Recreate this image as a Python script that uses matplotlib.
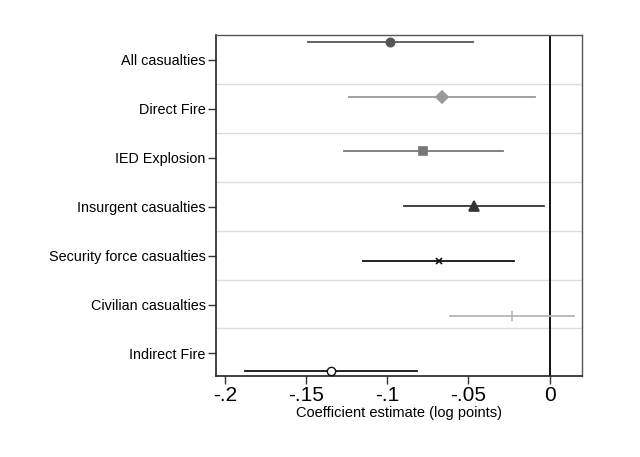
import matplotlib
matplotlib.use("Agg")
import matplotlib.pyplot as plt
import numpy as np

plt.rcParams['font.family'] = ['Liberation Sans', 'DejaVu Sans']

categories = ["All casualties", "Direct Fire", "IED Explosion", "Insurgent casualties",
              "Security force casualties", "Civilian casualties", "Indirect Fire"]
estimates = [-0.0983, -0.0661, -0.0778, -0.0466, -0.0683, -0.0230, -0.1346]
ci_low = [-0.1490, -0.1233, -0.1266, -0.0895, -0.1147, -0.0612, -0.1873]
ci_high = [-0.0470, -0.0089, -0.0289, -0.0037, -0.0220, 0.0150, -0.0817]
xticks = [-0.2, -0.15, -0.1, -0.05, 0]
xticklabels = ["-.2", "-.15", "-.1", "-.05", "0"]

colors = ["#555555", "#999999", "#777777", "#333333", "#111111", "#b5b5b5", "#111111"]
markers = ["o", "D", "s", "^", "x", "|", "o"]
msizes = [6, 6, 6, 7, 4, 7, 6]
fills = [True, True, True, True, True, True, False]

fig = plt.figure(figsize=(6.4, 4.57), dpi=100)
W, H = 640, 457
ax = fig.add_axes([216 / W, 1 - 376 / H, (582 - 216) / W, (376 - 35) / H])

n = len(categories)
label_pos = np.arange(1, n + 1)
point_pos = 0.626 + np.arange(n) * 1.121

for k in range(n - 1):
    ax.axhline(label_pos[k] + 0.49, color="#dcdcdc", lw=1.0, zorder=0)

ax.axvline(0, color="black", lw=1.3, zorder=1)

for i in range(n):
    ax.plot([ci_low[i], ci_high[i]], [point_pos[i], point_pos[i]], color=colors[i], lw=1.3, zorder=2)
    if fills[i]:
        ax.plot(estimates[i], point_pos[i], marker=markers[i], color=colors[i], ms=msizes[i],
                mew=1.2, zorder=3, linestyle="none")
    else:
        ax.plot(estimates[i], point_pos[i], marker=markers[i], markerfacecolor="white",
                markeredgecolor=colors[i], ms=msizes[i], mew=1.0, zorder=3, linestyle="none")

ax.set_xlim(-0.2054, 0.0199)
ax.set_ylim(7.462, 0.489)
ax.set_yticks(label_pos)
ax.set_yticklabels(categories, fontsize=10.4)
ax.set_xticks(xticks)
ax.set_xticklabels(xticklabels, fontsize=15)
ax.set_xlabel("Coefficient estimate (log points)", fontsize=10.5, labelpad=1)
ax.tick_params(axis="y", length=6, width=1, pad=1.5, color="#333333")
ax.tick_params(axis="x", length=6, width=1, pad=1, color="#333333")

for s in ["left", "bottom"]:
    ax.spines[s].set_color("#222222")
    ax.spines[s].set_linewidth(1.2)
for s in ["top", "right"]:
    ax.spines[s].set_color("#555555")
    ax.spines[s].set_linewidth(1.0)

fig.savefig("out.png", dpi=100)
